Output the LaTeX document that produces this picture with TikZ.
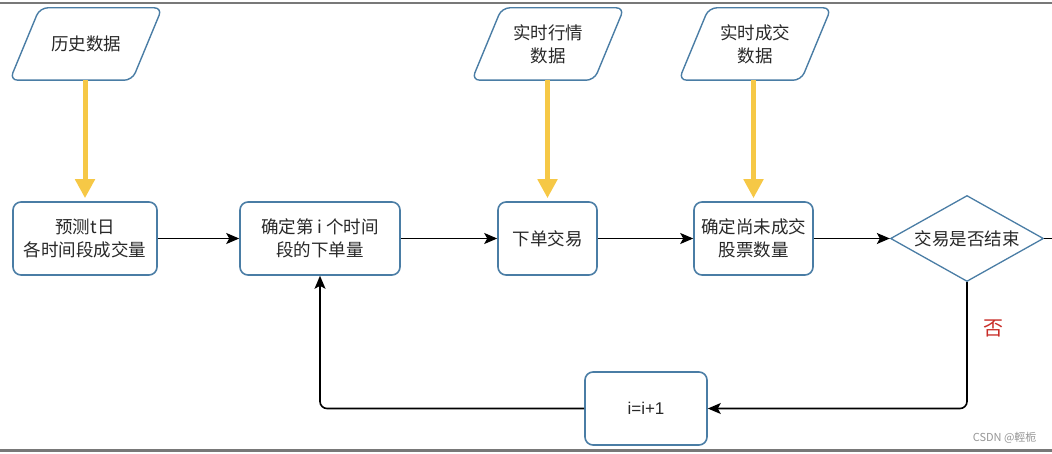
\documentclass[tikz,border=0pt]{standalone}
\usepackage{fontspec}
\setmainfont{Liberation Sans}
\newfontfamily\cjk{Noto Sans CJK SC}
\usetikzlibrary{shapes.geometric,arrows.meta}
\definecolor{boxblue}{RGB}{74,125,165}
\definecolor{gold}{RGB}{246,200,70}
\definecolor{txt}{RGB}{40,40,40}
\definecolor{redno}{RGB}{200,45,40}
\definecolor{rulegray}{RGB}{120,120,120}
\definecolor{wm}{RGB}{150,150,150}
\begin{document}
\begin{tikzpicture}[x=1pt,y=-1pt,
  cjktext/.style={text=txt, font=\cjk\fontsize{17.5}{23}\selectfont, align=center},
  proc/.style={cjktext, draw=boxblue, line width=1.6pt, rounded corners=8pt, fill=white,
    minimum height=73pt, inner sep=0pt},
  datain/.style={cjktext, minimum width=122pt, minimum height=72pt, inner sep=0pt},
  paral/.style={draw=boxblue, line width=1.4pt, rounded corners=8pt},
  decide/.style={cjktext, diamond, aspect=1.8, draw=boxblue, line width=1.3pt,
    minimum width=153pt, minimum height=86pt, inner sep=0pt},
  yarr/.style={gold, line width=5pt, -{Triangle[length=19pt,width=19pt]}, shorten >=3pt},
  arr/.style={black, line width=1.6pt, -{Stealth[length=13pt,width=11pt,inset=3pt]}},
  link/.style={black, line width=1.6pt},
  rulestyle/.style={rulegray, line width=2.5pt}
]
\useasboundingbox (0,0) rectangle (1052,454);
\draw[rulestyle] (0,3) -- (1052,3);
\draw[rulestyle, line width=3pt] (0,450) -- (1052,450);

% data inputs (parallelograms around text nodes)
\node[datain] (d1) at (86,44) {历史数据};
\node[datain] (d2) at (548,44) {实时行情\\数据};
\node[datain] (d3) at (755,44) {实时成交\\数据};
\foreach \d in {d1,d2,d3}{
  \draw[paral] ([xshift=-15pt]\d.south west) -- ([xshift=15pt]\d.north west)
    -- ([xshift=15pt]\d.north east) -- ([xshift=-15pt]\d.south east) -- cycle;
}

% process boxes
\node[proc, minimum width=144pt] (b1) at (85,238.5) {预测t日\\各时间段成交量};
\node[proc, minimum width=160pt] (b2) at (320,238.5) {确定第 i 个时间\\段的下单量};
\node[proc, minimum width=99pt] (b3) at (547.5,238.5) {下单交易};
\node[proc, minimum width=119pt] (b4) at (753.5,238.5) {确定尚未成交\\股票数量};
\node[decide] (dec) at (967,238.5) {交易是否结束};
\node[proc, minimum width=122pt, font=\fontsize{17}{20}\selectfont] (inc) at (646,408.5) {i=i+1};
\coordinate (rexit) at (1052,238.5);

% yellow input arrows
\draw[yarr] (b1.north |- d1.south) -- (b1.north);
\draw[yarr] (b3.north |- d2.south) -- (b3.north);
\draw[yarr] (b4.north |- d3.south) -- (b4.north);

% main flow
\draw[arr] (b1) -- (b2);
\draw[arr] (b2) -- (b3);
\draw[arr] (b3) -- (b4);
\draw[arr] (b4) -- (dec);
\draw[link] (dec.east) -- (rexit);
\draw[arr, rounded corners=7pt] (dec.south) |- (inc.east);
\draw[arr, rounded corners=7pt] (inc.west) -| (b2.south);

% labels
\node[font=\cjk\fontsize{20}{22}\selectfont, text=redno] (no) at (993,328) {否};
\node[font=\cjk\fontsize{11}{13}\selectfont, text=wm, anchor=east] (mark) at (1040,438) {CSDN @輕栀};
\end{tikzpicture}
\end{document}
